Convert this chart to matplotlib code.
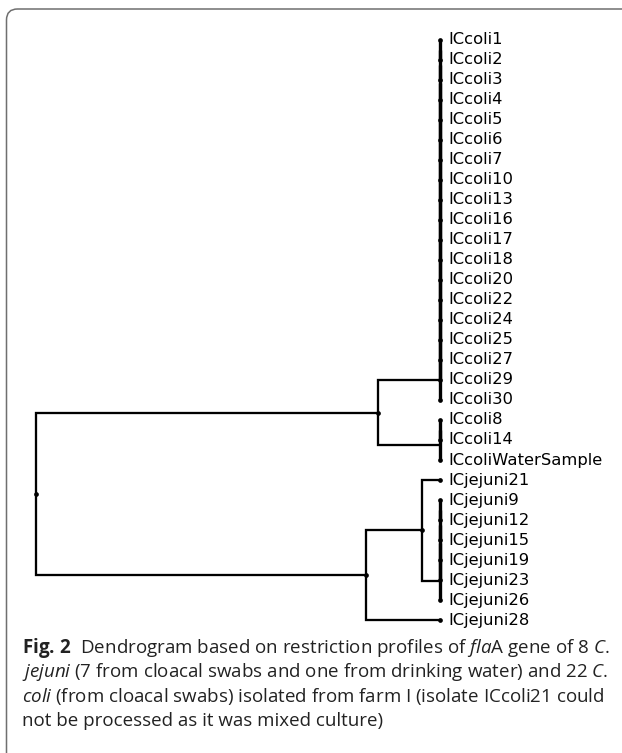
import matplotlib
matplotlib.use("Agg")
import matplotlib.pyplot as plt
from matplotlib.patches import FancyBboxPatch
from matplotlib.transforms import IdentityTransform

# ---------------- data ----------------
leaf_labels = ["ICcoli1", "ICcoli2", "ICcoli3", "ICcoli4", "ICcoli5", "ICcoli6", "ICcoli7",
               "ICcoli10", "ICcoli13", "ICcoli16", "ICcoli17", "ICcoli18", "ICcoli20",
               "ICcoli22", "ICcoli24", "ICcoli25", "ICcoli27", "ICcoli29", "ICcoli30",
               "ICcoli8", "ICcoli14", "ICcoliWaterSample",
               "ICjejuni21", "ICjejuni9", "ICjejuni12", "ICjejuni15", "ICjejuni19",
               "ICjejuni23", "ICjejuni26", "ICjejuni28"]

# identical-profile groups (distance 0)
group_coli_a = leaf_labels[0:19]
group_coli_b = leaf_labels[19:22]
group_jej_a = leaf_labels[23:29]

# merge distances (relative scale, root = 100)
h_coli = 15.3        # coli group A + coli group B
h_jej_inner = 4.5    # ICjejuni21 + jejuni group
h_jej = 18.3         # jejuni inner + ICjejuni28
h_root = 100.0       # coli + jejuni

# ---------------- tree ----------------
def ladder(names):
    node = names[0]
    for n in names[1:]:
        node = (node, n, 0.0)
    return node

tree = ((ladder(group_coli_a), ladder(group_coli_b), h_coli),
        ((("ICjejuni21", ladder(group_jej_a), h_jej_inner)), "ICjejuni28", h_jej),
        h_root)

W, H = 622, 753
fig = plt.figure(figsize=(W / 100, H / 100), dpi=100)

# axes: leaves at pixel x=440, root at x=36; leaf rows from y=40 to y=620
ax = fig.add_axes([36 / W, 1 - 620 / H, 404 / W, 580 / H])
ax.set_xlim(h_root, 0)
ax.set_ylim(len(leaf_labels) - 1, 0)
ax.axis("off")

ypos = {name: i for i, name in enumerate(leaf_labels)}
LW = 1.65
LW0 = 2.4
dots_x, dots_y = [], []

def draw(node):
    if isinstance(node, str):
        dots_x.append(0.0)
        dots_y.append(ypos[node])
        return 0.0, ypos[node]
    a, b, h = node
    ha, ya = draw(a)
    hb, yb = draw(b)
    if h == 0:
        ax.plot([h, h], [ya, yb], color="black", lw=LW0,
                solid_capstyle="butt", clip_on=False)
    else:
        ax.plot([ha, h, h, hb], [ya, ya, yb, yb], color="black", lw=LW,
                solid_joinstyle="miter", clip_on=False)
        dots_x.append(h)
        dots_y.append((ya + yb) / 2)
    return h, (ya + yb) / 2

draw(tree)
ax.plot(dots_x, dots_y, "o", color="black", ms=3.4, mew=0, clip_on=False)

for name, i in ypos.items():
    ax.annotate(name, xy=(0, i), xytext=(6, 0), textcoords="offset points",
                va="center", ha="left", fontsize=11.8, family="DejaVu Sans",
                color="black", annotation_clip=False)

# ---------------- caption ----------------
plt.rcParams["mathtext.fontset"] = "custom"
plt.rcParams["mathtext.rm"] = "Open Sans"
plt.rcParams["mathtext.it"] = "Open Sans:italic"
plt.rcParams["mathtext.bf"] = "Open Sans:bold"

caption_lines = [
    r"$\mathbf{Fig.\,2}$  Dendrogram based on restriction profiles of $\mathit{fla}$A gene of 8 $\mathit{C.}$",
    r"$\mathit{jejuni}$ (7 from cloacal swabs and one from drinking water) and 22 $\mathit{C.}$",
    r"$\mathit{coli}$ (from cloacal swabs) isolated from farm I (isolate ICcoli21 could",
    "not be processed as it was mixed culture)",
]
for k, line in enumerate(caption_lines):
    fig.text(22 / W, 1 - (648 + 24.3 * k) / H, line, family="Open Sans", fontsize=13.5,
             color="#222222", va="center", ha="left")

# ---------------- frame ----------------
frame = FancyBboxPatch((6.5, -12), 700, H - 9 + 12,
                       boxstyle="round,pad=0,rounding_size=11",
                       transform=IdentityTransform(), fill=False,
                       edgecolor="#6f6f6f", lw=1.1)
fig.patches.append(frame)

fig.savefig("out.png", dpi=100)
